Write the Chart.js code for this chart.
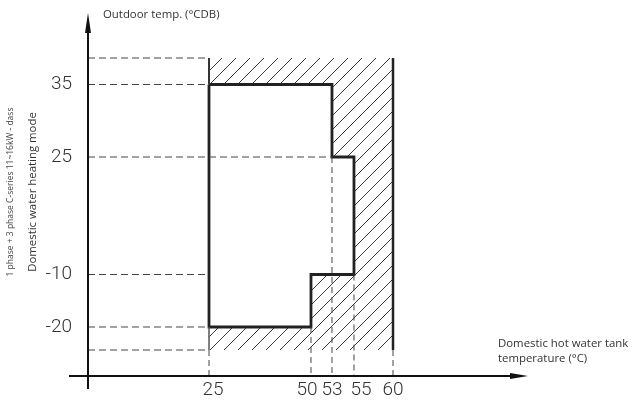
<!DOCTYPE html>
<html>
<head>
<meta charset="utf-8">
<script src="https://cdn.jsdelivr.net/npm/chart.js@4.4.0/dist/chart.umd.min.js"></script>
<style>
  html, body { margin: 0; padding: 0; background: #fff; }
</style>
</head>
<body>
<canvas id="range" width="632" height="405"></canvas>
<script>
// tick labels on the two axes
const xTicks = [25, 50, 53, 55, 60];
const yTicks = [-20, -10, 25, 35];

// DHW operating range: x = tank temp (°C), y = outdoor temp (°CDB)
const rangeX = [25, 53, 53, 55, 55, 50, 50, 25, 25];
const rangeY = [35, 35, 25, 25, -10, -10, -20, -20, 35];

// hatched band limits (not labelled on the drawing)
const limitX = [25, 60];
const limitY = [-25, 40];

// where the axes start / end
const xEnds = [0, 75];
const yEnds = [-30, 50];

// dashed guides: horizontal levels and how far right they go
const guideLevels = [40, 35, 25, -10, -20, -25];
const guideLevelEnds = [25, 25, 53, 25, 25, 25];
// vertical guides down to the x axis, and where they start
const guideX = [25, 50, 53, 55, 60];
const guideXFrom = [-25, -20, 25, -10, -25];

// the drawing isn't to scale, so each axis is piecewise linear
const axisStops = {
    x: { values: [0, 25, 50, 53, 55, 60, 75], pos: [0, 0.275, 0.5068, 0.5545, 0.6045, 0.6932, 1] },
    y: { values: [-30, -25, -20, -10, 25, 35, 40, 50], pos: [0, 0.0716, 0.135, 0.2796, 0.6033, 0.803, 0.876, 1] }
};
// small nudges so the crowded x labels don't touch (px)
const labelShift = { x: [4, -4, 0, 7, 0] };

class PiecewiseScale extends Chart.LinearScale {
    getPixelForValue(value) {
        const s = axisStops[this.id];
        const v = s.values, p = s.pos;
        let i = 1;
        while (i < v.length - 1 && value > v[i]) i++;
        const t = (value - v[i - 1]) / (v[i] - v[i - 1]);
        return this.getPixelForDecimal(p[i - 1] + t * (p[i] - p[i - 1]));
    }
    getValueForPixel(pixel) {
        const s = axisStops[this.id];
        const v = s.values, p = s.pos;
        const d = this.getDecimalForPixel(pixel);
        let i = 1;
        while (i < p.length - 1 && d > p[i]) i++;
        const t = (d - p[i - 1]) / (p[i] - p[i - 1]);
        return v[i - 1] + t * (v[i] - v[i - 1]);
    }
    _computeLabelItems(area) {
        const items = super._computeLabelItems(area);
        const shift = labelShift[this.id];
        if (shift) items.forEach((it, i) => { it.options.translation[0] += shift[i] || 0; });
        return items;
    }
}
PiecewiseScale.id = 'piecewise';
PiecewiseScale.defaults = Chart.LinearScale.defaults;
Chart.register(PiecewiseScale);

function line(xs, ys, style) {
    return Object.assign({
        data: xs.map((x, i) => ({ x: x, y: ys[i] })),
        showLine: true,
        pointRadius: 0,
        fill: false,
        clip: false,
        borderColor: '#222',
        borderWidth: 1
    }, style);
}

let datasets = [];
guideLevels.forEach((lv, i) => {
    datasets.push(line([xEnds[0], guideLevelEnds[i]], [lv, lv], { borderColor: '#444', borderDash: [7, 4] }));
});
guideX.forEach((gx, i) => {
    datasets.push(line([gx, gx], [guideXFrom[i], yEnds[0]], { borderColor: '#444', borderDash: [6, 4] }));
});
// outer edges of hatched band
datasets.push(line([limitX[0], limitX[0]], [limitY[1], 35], { borderWidth: 2, borderColor: '#333' }));
datasets.push(line([limitX[0], limitX[0]], [-20, limitY[0]], { borderWidth: 1.5, borderColor: '#555' }));
datasets.push(line([limitX[1], limitX[1]], limitY, { borderWidth: 2.5, borderColor: '#222' }));
// operating range outline
datasets.push(line(rangeX, rangeY, { borderWidth: 2.8, borderColor: '#222' }));

function makeHatch(ctx) {
    const s = 14;
    const c = document.createElement('canvas');
    c.width = s; c.height = s;
    const g = c.getContext('2d');
    g.strokeStyle = '#3a3a3a';
    g.lineWidth = 1;
    g.beginPath();
    g.moveTo(0, s); g.lineTo(s, 0);
    g.moveTo(-2, 2); g.lineTo(2, -2);
    g.moveTo(s - 2, s + 2); g.lineTo(s + 2, s - 2);
    g.stroke();
    return ctx.createPattern(c, 'repeat');
}

const hatchPlugin = {
    id: 'hatch',
    beforeDatasetsDraw(chart) {
        const { ctx, scales: { x, y } } = chart;
        const x0 = x.getPixelForValue(limitX[0]), x1 = x.getPixelForValue(limitX[1]);
        const y0 = y.getPixelForValue(limitY[0]), y1 = y.getPixelForValue(limitY[1]);
        ctx.save();
        ctx.beginPath();
        ctx.rect(x0, y1, x1 - x0, y0 - y1);
        rangeX.forEach((v, i) => {
            const px = x.getPixelForValue(v), py = y.getPixelForValue(rangeY[i]);
            if (i === 0) ctx.moveTo(px, py); else ctx.lineTo(px, py);
        });
        ctx.closePath();
        ctx.fillStyle = makeHatch(ctx);
        ctx.fill('evenodd');
        ctx.restore();
    }
};

const axesPlugin = {
    id: 'axes',
    afterDatasetsDraw(chart) {
        const { ctx, scales: { x, y } } = chart;
        const ax = x.getPixelForValue(xEnds[0]);
        const ay = y.getPixelForValue(yEnds[0]);
        const top = y.getPixelForValue(yEnds[1]);
        const right = x.getPixelForValue(xEnds[1]);
        ctx.save();
        ctx.strokeStyle = '#111';
        ctx.fillStyle = '#111';
        ctx.lineWidth = 2;
        ctx.beginPath();
        ctx.moveTo(ax, ay + 13); ctx.lineTo(ax, top + 16);
        ctx.moveTo(ax - 19, ay); ctx.lineTo(right - 14, ay);
        ctx.stroke();
        // arrow heads
        ctx.beginPath();
        ctx.moveTo(ax, top); ctx.lineTo(ax + 3, top + 20); ctx.lineTo(ax - 3, top + 20); ctx.closePath();
        ctx.moveTo(right, ay); ctx.lineTo(right - 18, ay - 3); ctx.lineTo(right - 18, ay + 3); ctx.closePath();
        ctx.fill();

        // axis titles
        ctx.fillStyle = '#333';
        ctx.font = '11.4px "Open Sans"';
        ctx.textBaseline = 'alphabetic';
        ctx.textAlign = 'left';
        ctx.fillText('Outdoor temp. (°CDB)', 103, 18);
        ctx.fillText('Domestic hot water tank', 498, 347);
        ctx.fillText('temperature (°C)', 498, 362);

        ctx.translate(33, 192);
        ctx.rotate(-Math.PI / 2);
        ctx.textAlign = 'center';
        ctx.textBaseline = 'middle';
        ctx.fillText('Domestic water heating mode', 0, 0);
        ctx.font = '8.5px "Open Sans"';
        ctx.fillStyle = '#444';
        ctx.fillText('1 phase + 3 phase C-series 11~16kW - dass', 0, -22);
        ctx.restore();
    }
};

const tickFont = { family: 'Roboto, "DejaVu Sans Condensed", sans-serif', size: 19, weight: 300 };

new Chart(document.getElementById('range'), {
    type: 'scatter',
    data: { datasets: datasets },
    plugins: [hatchPlugin, axesPlugin],
    options: {
        responsive: false,
        animation: false,
        layout: { padding: { left: 0, top: 13, right: 104, bottom: 0 } },
        plugins: { legend: { display: false }, tooltip: { enabled: false } },
        scales: {
            x: {
                type: 'piecewise',
                min: xEnds[0],
                max: xEnds[1],
                grid: { display: false, drawTicks: false },
                border: { display: false },
                afterBuildTicks: s => { s.ticks = xTicks.map(v => ({ value: v })); },
                afterFit: s => { s.height = 29; s.paddingLeft = 0; s.paddingRight = 0; },
                ticks: {
                    autoSkip: false,
                    maxRotation: 0,
                    padding: 3,
                    color: '#333',
                    font: tickFont,
                    callback: v => String(v)
                }
            },
            y: {
                type: 'piecewise',
                min: yEnds[0],
                max: yEnds[1],
                grid: { display: false, drawTicks: false },
                border: { display: false },
                afterBuildTicks: s => { s.ticks = yTicks.map(v => ({ value: v })); },
                afterFit: s => { s.width = 88; s.paddingTop = 0; s.paddingBottom = 0; },
                ticks: {
                    autoSkip: false,
                    padding: 16,
                    color: '#333',
                    font: tickFont,
                    callback: v => String(v)
                }
            }
        }
    }
});
</script>
</body>
</html>
